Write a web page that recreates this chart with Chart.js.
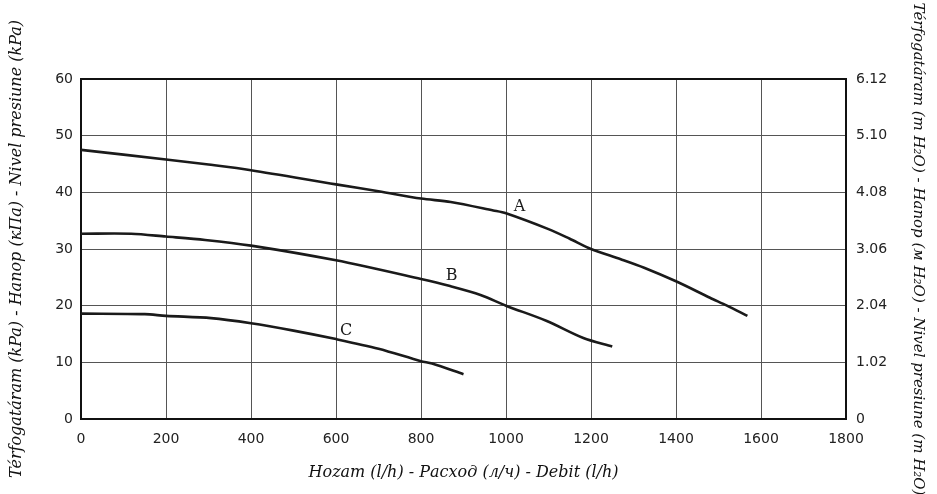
<!DOCTYPE html>
<html>
<head>
<meta charset="utf-8">
<script src="https://cdn.jsdelivr.net/npm/chart.js@4.4.1/dist/chart.umd.min.js"></script>
<style>
  html,body{margin:0;padding:0;background:#fff;}
  #wrap{width:937px;height:494px;}
</style>
</head>
<body>
<div id="wrap"><canvas id="c" width="937" height="494"></canvas></div>
<script>
// Flow values (l/h) and pressure values (kPa)
const flowA = [0, 200, 300, 400, 600, 700, 800, 870, 970, 1000, 1100, 1150, 1200, 1270, 1325, 1400, 1480, 1520, 1568];
const pressA = [47.5, 45.8, 44.9, 43.9, 41.4, 40.2, 38.9, 38.3, 36.8, 36.3, 33.5, 31.8, 30.0, 28.2, 26.7, 24.3, 21.4, 20.0, 18.2];

const flowB = [0, 118, 200, 292, 400, 600, 800, 866, 940, 1000, 1096, 1182, 1250];
const pressB = [32.7, 32.7, 32.2, 31.6, 30.6, 28.0, 24.7, 23.5, 21.9, 20.0, 17.3, 14.3, 12.8];

const flowC = [0, 150, 200, 306, 400, 500, 600, 700, 800, 826, 900];
const pressC = [18.6, 18.5, 18.2, 17.8, 16.9, 15.6, 14.1, 12.4, 10.2, 9.8, 7.9];

const curveNames = ['A', 'B', 'C'];
const curveLabelX = [1032, 872, 624];
const curveLabelY = [37.5, 25.3, 15.6];

const leftTicks = [0, 10, 20, 30, 40, 50, 60];
const rightTickValues = [0, 1.02, 2.04, 3.06, 4.08, 5.10, 6.12];
const rightTickLabels = ['0', '1.02', '2.04', '3.06', '4.08', '5.10', '6.12'];
const xTicks = [0, 200, 400, 600, 800, 1000, 1200, 1400, 1600, 1800];

const xTitle = 'Hozam (l/h) - Расход (л/ч) - Debit (l/h)';
const yTitle = 'Térfogatáram (kPa) - Hanop (кПа) - Nivel presiune (kPa)';
const y2Title = 'Térfogatáram (m H₂O) - Hanop (м H₂O) - Nivel presiune (m H₂O)';

function pts(xs, ys){ return xs.map((x,i)=>({x:x, y:ys[i]})); }

const tickFont = {family: "'DejaVu Sans', sans-serif", size: 14};
const titleFont = {family: "'DejaVu Serif', serif", size: 16, style: 'italic'};
const titleFontRight = {family: "'DejaVu Serif', serif", size: 15, style: 'italic'};

const curveLabels = {
  id: 'curveLabels',
  afterDatasetsDraw(chart){
    const ctx = chart.ctx, xs = chart.scales.x, ys = chart.scales.y;
    ctx.save();
    ctx.font = "16px 'DejaVu Serif', serif";
    ctx.fillStyle = '#1a1a1a';
    ctx.textAlign = 'center';
    ctx.textBaseline = 'middle';
    curveNames.forEach((n,i)=>{
      ctx.fillText(n, xs.getPixelForValue(curveLabelX[i]), ys.getPixelForValue(curveLabelY[i]));
    });
    ctx.restore();
  }
};

const lineStyle = {borderColor:'#1a1a1a', borderWidth:2.6, pointRadius:0, tension:0.3, fill:false};

new Chart(document.getElementById('c'), {
  type: 'line',
  data: {
    datasets: [
      Object.assign({label:'A', data: pts(flowA, pressA)}, lineStyle),
      Object.assign({label:'B', data: pts(flowB, pressB)}, lineStyle),
      Object.assign({label:'C', data: pts(flowC, pressC)}, lineStyle)
    ]
  },
  options: {
    responsive: false,
    animation: false,
    layout: {padding: {top: 79, right: 0, bottom: 0, left: 0}},
    plugins: {legend: {display:false}, tooltip: {enabled:false}},
    scales: {
      x: {
        type: 'linear', min: 0, max: 1800,
        afterBuildTicks(s){ s.ticks = xTicks.map(v=>({value:v})); },
        afterFit(s){ s.height = 75; },
        ticks: {font: tickFont, color:'#222', padding: 12, maxRotation:0,
          callback: v => String(v)},
        grid: {color: '#555', lineWidth: 1, drawTicks: false},
        border: {display: true, color: '#111', width: 2},
        title: {display: true, text: xTitle, font: titleFont, color:'#111', padding: {top:0, bottom: 12}}
      },
      y: {
        position: 'left', min: 0, max: 60,
        afterBuildTicks(s){ s.ticks = leftTicks.map(v=>({value:v})); },
        afterFit(s){ s.width = 81; },
        ticks: {font: tickFont, color:'#222', padding: 8, callback: v => String(v)},
        grid: {
          color: ctx => (ctx.tick && ctx.tick.value === 60) ? '#111' : '#555',
          lineWidth: ctx => (ctx.tick && ctx.tick.value === 60) ? 2 : 1,
          drawTicks: false
        },
        border: {display: true, color: '#111', width: 2},
        title: {display: true, text: yTitle, font: titleFont, color:'#111', padding: {top: 7, bottom: 0}}
      },
      y2: {
        position: 'right', min: 0, max: 6.12,
        afterBuildTicks(s){ s.ticks = rightTickValues.map(v=>({value:v})); },
        afterFit(s){ s.width = 91; },
        ticks: {font: tickFont, color:'#222', padding: 10,
          callback: (v, i) => rightTickLabels[i]},
        grid: {display: false, drawTicks: false},
        border: {display: true, color: '#111', width: 2},
        title: {display: true, text: y2Title, font: titleFontRight, color:'#111', padding: {top: 10, bottom: 0}}
      }
    }
  },
  plugins: [curveLabels]
});
</script>
</body>
</html>
